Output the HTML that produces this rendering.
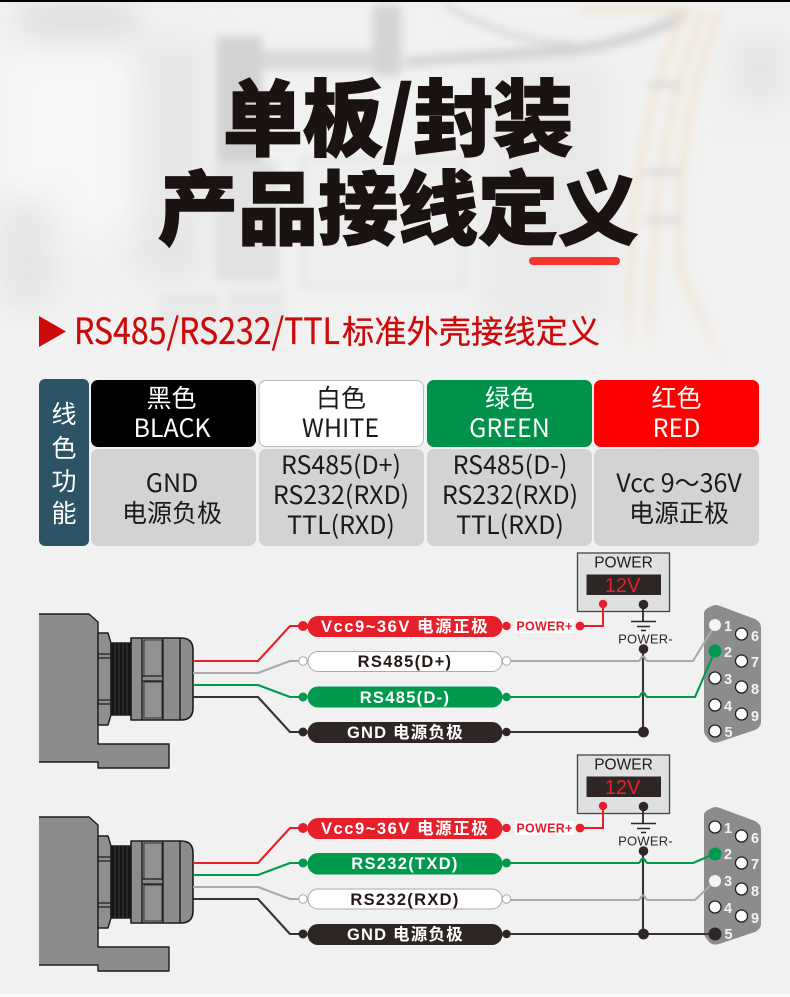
<!DOCTYPE html>
<html lang="zh"><head><meta charset="utf-8"><title>产品接线定义</title>
<style>
html,body{margin:0;padding:0;background:#f2f2f2}
body{width:790px;height:997px;overflow:hidden}
svg{display:block}
text{font-family:"Liberation Sans","Noto Sans CJK SC",sans-serif}
.c{font-family:"Noto Sans CJK SC","Liberation Sans",sans-serif;text-anchor:middle}
.t{font-size:25px;fill:#1a1a1a}
.w{fill:#fff}
.p{font-size:16.5px;font-weight:700;text-anchor:middle;letter-spacing:1.300px}
.n{font-size:14.500px;font-weight:700;fill:#f4f4f4;text-anchor:middle}
</style></head><body>
<svg width="790" height="997" viewBox="0 0 790 997" xmlns="http://www.w3.org/2000/svg">
<defs>
<filter id="b" x="-20%" y="-20%" width="140%" height="140%"><feGaussianBlur stdDeviation="4.500"/></filter>
<filter id="b2" x="-30%" y="-30%" width="160%" height="160%"><feGaussianBlur stdDeviation="16"/></filter>
<linearGradient id="fade" x1="0" y1="0" x2="0" y2="1"><stop offset="0" stop-color="#f2f2f2" stop-opacity="0"/><stop offset="1" stop-color="#f2f2f2"/></linearGradient>

<g id="housing" stroke="#1c1c1c" stroke-width="1.400" stroke-linejoin="round">
 <path d="M39 614H89L98 622V744H169V768H98V762H39Z" fill="#8c8c8c" stroke="none"/>
 <path d="M39 614H89L98 622V744H169V768H98V762H39" fill="none"/>
 <path d="M98 633H108L111 643V715L108 725H98Z" fill="#8f8f8f"/>
 <path d="M98 654H110M98 658H110M98 700H110M98 704H110" stroke-width="1.200"/>
 <rect x="111" y="643" width="20" height="72" fill="#151515"/>
 <path d="M115 643V715M119 643V715M123 643V715M127 643V715" stroke="#444" stroke-width=".8"/>
 <path d="M131 638H181Q193 638 193 650V708Q193 720 181 720H131Z" fill="#8c8c8c" stroke-width="1.600"/>
 <path d="M142 638V720M163 638V720M180 638V720" fill="none" stroke-width="1.400"/>
 <path d="M144 640H162V676H144ZM144 682H162V718H144Z" fill="#919191" stroke-width=".8"/>
 <path d="M142 676H163M142 681H163" stroke-width="1.300"/>
</g>

<g id="pins">
 <path d="M712 606Q715 604 720 606L755 619Q761 622 761 628V722Q761 727 755 730L719 742Q713 744 709 740L706 736Q704 734 704 730V613Q704 609 712 606Z" fill="#8c8c8c"/>
 <g fill="#fff" stroke="#1f1f1f" stroke-width="1.300">
  <circle cx="741.500" cy="634" r="6"/><circle cx="741.500" cy="661" r="6"/><circle cx="741.500" cy="687" r="6"/><circle cx="741.500" cy="714" r="6"/>
 </g>
 <text class="n" x="728" y="631">1</text><text class="n" x="728" y="657">2</text><text class="n" x="728" y="684">3</text><text class="n" x="728" y="711">4</text><text class="n" x="728.500" y="737">5</text>
 <text class="n" x="755" y="641">6</text><text class="n" x="755" y="667">7</text><text class="n" x="755" y="694">8</text><text class="n" x="755" y="721">9</text>
</g>

<g id="power">
 <rect x="577.500" y="553" width="92" height="58.500" fill="#dfe1e0" stroke="#444" stroke-width="1.300"/>
 <text x="623.500" y="567.500" font-size="15.500" fill="#231815" text-anchor="middle">POWER</text>
 <rect x="586.500" y="574.500" width="74.500" height="20.500" fill="#2e2624"/>
 <text x="622.500" y="592" font-size="20" fill="#e5202a" text-anchor="middle">12V</text>
 <path d="M580 626H603V604" fill="none" stroke="#e61f2b" stroke-width="2"/>
 <circle cx="603" cy="604" r="4.200" fill="#e61f2b"/>
 <circle cx="580" cy="626" r="4.400" fill="#e61f2b"/>
 <path d="M643 605V621" stroke="#2e2624" stroke-width="1.800"/>
 <circle cx="643.500" cy="604.500" r="4.800" fill="#2e2624"/>
 <path d="M631 621.500H656M637 626.500H650M641 630.500H646" stroke="#2e2624" stroke-width="1.500"/>
 <text x="645.500" y="643.500" font-size="13" fill="#2e2624" text-anchor="middle" letter-spacing=".2">POWER-</text>
 <rect x="515" y="619" width="59" height="14" fill="#fff" opacity=".9"/>
 <text x="544.500" y="630.500" font-size="12.500" font-weight="700" fill="#e61f2b" text-anchor="middle" letter-spacing=".3">POWER+</text>
</g>
</defs>

<!-- background -->
<rect width="790" height="994" fill="#f1f1f1"/>
<rect y="994" width="790" height="3" fill="#fafafa"/>
<g filter="url(#b2)">
 <rect x="0" y="50" width="180" height="180" fill="#f7f7f7"/>
 <rect x="135" y="40" width="70" height="240" fill="#e4e4e4" opacity=".8"/>
 <rect x="730" y="35" width="60" height="70" fill="#e6e6e6"/>
 <rect x="20" y="0" width="116" height="40" fill="#e0e0e0"/>
 <rect x="0" y="200" width="55" height="110" fill="#e6e6e6"/>
 <rect x="480" y="60" width="130" height="270" fill="#e9e9e9"/>
</g>
<g filter="url(#b)">
 <rect x="217" y="37" width="45" height="125" fill="#d2d2d2"/>
 <rect x="215" y="162" width="65" height="120" fill="#e3e3e3"/>
 <rect x="262" y="50" width="110" height="20" fill="#d9d9d9"/>
 <rect x="373" y="5" width="28" height="70" fill="#d3d3d3"/>
 <rect x="302" y="157" width="161" height="130" fill="#eeeeee" stroke="#dedede" stroke-width="3"/>
 <path d="M405 62L574 50Q640 40 690 13" fill="none" stroke="#cfcfcf" stroke-width="9"/>
 <path d="M443 3Q500 40 574 45" fill="none" stroke="#d4d4d4" stroke-width="5"/>
 <g fill="none" stroke="#f0e5d8" stroke-width="8">
  <path d="M705 10Q650 130 650 345"/><path d="M720 10Q672 130 680 270L725 370"/><path d="M580 10H690"/><path d="M690 8Q630 100 628 345"/>
 </g>
 <path d="M648 85H680M645 172H680M645 220H682" stroke="#dcdcdc" stroke-width="6"/>
 <rect x="158" y="292" width="63" height="55" fill="#e8e8e8"/>
 <rect x="228" y="288" width="57" height="60" fill="#e8e8e8"/>
</g>
<rect x="0" y="300" width="790" height="80" fill="url(#fade)"/>
<rect width="790" height="2" fill="#000"/>

<!-- title -->
<text class="c" x="398" y="149" font-size="83" font-weight="900" fill="#1a1311" stroke="#1a1311" stroke-width="1.600" textLength="350" lengthAdjust="spacingAndGlyphs">单板/封装</text>
<text class="c" x="398" y="238" font-size="80" font-weight="900" fill="#1a1311" stroke="#1a1311" stroke-width="1.600" textLength="480" lengthAdjust="spacingAndGlyphs">产品接线定义</text>
<rect x="529" y="257" width="91" height="8" rx="4" fill="#f5352c"/>

<!-- heading -->
<path d="M39 316L66 331.500L39 347Z" fill="#cc0a0a"/>
<text class="c" x="207" y="344" font-size="36" fill="#cc0a0a" stroke="#cc0a0a" stroke-width=".3" textLength="266" lengthAdjust="spacingAndGlyphs">RS485/RS232/TTL</text>
<text class="c" x="471" y="343" font-size="32" fill="#cc0a0a" stroke="#cc0a0a" stroke-width=".3" textLength="258" lengthAdjust="spacingAndGlyphs">标准外壳接线定义</text>

<!-- table -->
<rect x="39" y="379" width="50" height="167" rx="6" fill="#2b5566"/>
<g font-size="25" fill="#fff">
 <text class="c w" x="64" y="423">线</text><text class="c w" x="64" y="457">色</text><text class="c w" x="64" y="490">功</text><text class="c w" x="64" y="522">能</text>
</g>
<rect x="91" y="380" width="165" height="67" rx="7" fill="#000"/>
<rect x="259" y="380.500" width="164.500" height="66" rx="7" fill="#fff" stroke="#bbb"/>
<rect x="427" y="380" width="165" height="67" rx="7" fill="#00914a"/>
<rect x="594" y="380" width="165" height="67" rx="7" fill="#f00"/>
<g fill="#d3d3d3">
 <rect x="91" y="449" width="165" height="97" rx="7"/><rect x="259" y="449" width="165" height="97" rx="7"/>
 <rect x="427" y="449" width="165" height="97" rx="7"/><rect x="594" y="449" width="165" height="97" rx="7"/>
</g>
<g font-size="25">
 <text class="c w" x="171.500" y="407">黑色</text><text class="c w" x="172" y="437">BLACK</text>
 <text class="c t" x="341" y="407">白色</text><text class="c t" x="340.500" y="437">WHITE</text>
 <text class="c w" x="510" y="407">绿色</text><text class="c w" x="509.500" y="437">GREEN</text>
 <text class="c w" x="676.500" y="407">红色</text><text class="c w" x="676.500" y="437">RED</text>
 <text class="c t" x="172" y="492">GND</text><text class="c t" x="172" y="522">电源负极</text>
 <text class="c t" x="341" y="474">RS485(D+)</text><text class="c t" x="341" y="504">RS232(RXD)</text><text class="c t" x="341" y="534">TTL(RXD)</text>
 <text class="c t" x="510" y="474">RS485(D-)</text><text class="c t" x="510" y="504">RS232(RXD)</text><text class="c t" x="510" y="534">TTL(RXD)</text>
 <text class="c t" x="679" y="492">Vcc 9～36V</text><text class="c t" x="679" y="522">电源正极</text>
</g>

<!-- diagram 1 -->
<use href="#housing"/>
<use href="#power"/>
<use href="#pins"/>
<g fill="none" stroke-width="2.100" stroke-linejoin="round">
 <path d="M193 661H258L290 626H303" stroke="#e61f2b"/>
 <path d="M193 673H258L290 661H303" stroke="#aaa"/>
 <path d="M193 685H258L290 697H303" stroke="#009a4e"/>
 <path d="M193 697H258L290 732H303" stroke="#3a3230"/>
 <path d="M643 649V732" stroke="#3a3230"/>
 <path d="M510 661H638Q640 661 641 658Q643 655 645 658Q646 661 648 661H693L715 625" stroke="#aaa"/>
 <path d="M510 697H638Q640 697 641 694Q643 691 645 694Q646 697 648 697H695L715 651" stroke="#009a4e"/>
 <path d="M510 732H643" stroke="#3a3230"/>
</g>
<circle cx="643.500" cy="649" r="4.800" fill="#2e2624"/>
<circle cx="643.500" cy="732" r="5.400" fill="#2e2624"/>
<circle cx="303" cy="626" r="5" fill="#e61f2b"/><circle cx="506.500" cy="626" r="4.200" fill="#e61f2b"/>
<circle cx="303" cy="661" r="4.200" fill="#fff" stroke="#aaa"/><circle cx="506.500" cy="661" r="4.200" fill="#fff" stroke="#aaa"/>
<circle cx="303" cy="697" r="4.500" fill="#009a4e"/><circle cx="506.500" cy="697" r="4.200" fill="#009a4e"/>
<circle cx="303" cy="732" r="4.500" fill="#2e2624"/><circle cx="506.500" cy="732" r="4.200" fill="#2e2624"/>
<rect x="307.500" y="616" width="195" height="21" rx="10.500" fill="#e61f2b"/>
<rect x="308" y="651.500" width="194" height="20" rx="10" fill="#fff" stroke="#aaa"/>
<rect x="307.500" y="686.500" width="195" height="21" rx="10.500" fill="#009a4e"/>
<rect x="307.500" y="722" width="195" height="21" rx="10.500" fill="#2e2624"/>
<text class="p" x="405" y="632" fill="#fff" textLength="168" lengthAdjust="spacing">Vcc9~36V 电源正极</text>
<text class="p" x="405" y="667" fill="#231815">RS485(D+)</text>
<text class="p" x="405" y="703" fill="#fff">RS485(D-)</text>
<text class="p" x="405.500" y="738" fill="#fff" textLength="117" lengthAdjust="spacing">GND 电源负极</text>
<circle cx="715" cy="625" r="6" fill="#f4f4f4"/>
<circle cx="715" cy="651" r="6.500" fill="#009a4e"/>
<g fill="#fff" stroke="#1f1f1f" stroke-width="1.300"><circle cx="715" cy="678" r="6"/><circle cx="715" cy="705" r="6"/><circle cx="715" cy="731" r="6"/></g>

<!-- diagram 2 -->
<use href="#housing" y="203"/>
<use href="#power" y="202"/>
<use href="#pins" y="202"/>
<g fill="none" stroke-width="2.100" stroke-linejoin="round">
 <path d="M193 863H258L290 828H303" stroke="#e61f2b"/>
 <path d="M193 875H258L290 863H303" stroke="#009a4e"/>
 <path d="M193 887H258L290 899H303" stroke="#aaa"/>
 <path d="M193 899H258L290 934H303" stroke="#3a3230"/>
 <path d="M643 851V934" stroke="#3a3230"/>
 <path d="M510 863H638Q640 863 641 860Q643 857 645 860Q646 863 648 863H693L715 853.500" stroke="#009a4e"/>
 <path d="M510 900H638Q640 900 641 897Q643 894 645 897Q646 900 648 900H695L715 881" stroke="#aaa"/>
 <path d="M510 934H715" stroke="#3a3230"/>
</g>
<circle cx="643.500" cy="851" r="4.800" fill="#2e2624"/>
<circle cx="643.500" cy="934" r="5.400" fill="#2e2624"/>
<circle cx="303" cy="828" r="5" fill="#e61f2b"/><circle cx="506.500" cy="828" r="4.200" fill="#e61f2b"/>
<circle cx="303" cy="863" r="4.500" fill="#009a4e"/><circle cx="506.500" cy="863" r="4.500" fill="#009a4e"/>
<circle cx="303" cy="899" r="4.200" fill="#fff" stroke="#aaa"/><circle cx="506.500" cy="899" r="4.200" fill="#fff" stroke="#aaa"/>
<circle cx="303" cy="934" r="4.500" fill="#2e2624"/><circle cx="506.500" cy="934" r="4.200" fill="#2e2624"/>
<rect x="307.500" y="818" width="195" height="21" rx="10.500" fill="#e61f2b"/>
<rect x="307.500" y="853" width="195" height="21.500" rx="10.500" fill="#009a4e"/>
<rect x="308" y="889" width="194" height="20" rx="10" fill="#fff" stroke="#aaa"/>
<rect x="307.500" y="924" width="195" height="21" rx="10.500" fill="#2e2624"/>
<text class="p" x="405" y="834" fill="#fff" textLength="168" lengthAdjust="spacing">Vcc9~36V 电源正极</text>
<text class="p" x="405" y="869" fill="#fff">RS232(TXD)</text>
<text class="p" x="405" y="905" fill="#231815">RS232(RXD)</text>
<text class="p" x="405.500" y="940" fill="#fff" textLength="117" lengthAdjust="spacing">GND 电源负极</text>
<g fill="#fff" stroke="#1f1f1f" stroke-width="1.300"><circle cx="715" cy="827" r="6"/><circle cx="715" cy="907" r="6"/></g>
<circle cx="715" cy="854" r="6.500" fill="#009a4e"/>
<circle cx="715" cy="881" r="6" fill="#f4f4f4"/>
<circle cx="715" cy="934" r="6.500" fill="#2e2624"/>
</svg>
</body></html>
